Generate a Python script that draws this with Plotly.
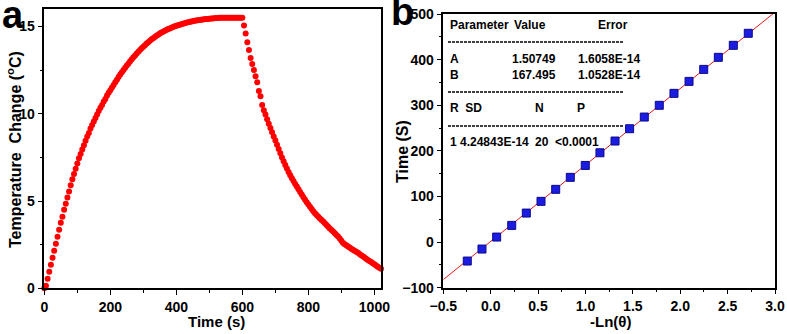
import plotly.graph_objects as go

# ---------------- data ----------------
# panel a: temperature change vs time (heating then natural cooling)
time_a = list(range(0, 1025, 5))
temp_a = [
    0.0, 0.15, 0.55, 0.95, 1.35, 1.75, 2.15, 2.55, 2.95, 3.35,        # 0-45
    3.75, 4.1, 4.5, 4.85, 5.2, 5.55, 5.9, 6.25, 6.55, 6.85,           # 50-95
    7.15, 7.45, 7.7, 7.95, 8.2, 8.45, 8.7, 8.9, 9.15, 9.35,           # 100-145
    9.55, 9.75, 9.95, 10.15, 10.35, 10.5, 10.7, 10.85, 11.05, 11.2,   # 150-195
    11.35, 11.5, 11.65, 11.8, 11.95, 12.1, 12.25, 12.38, 12.5, 12.63, # 200-245
    12.76, 12.88, 13.0, 13.12, 13.23, 13.34, 13.45, 13.55, 13.65, 13.75,  # 250-295
    13.84, 13.93, 14.02, 14.1, 14.18, 14.26, 14.33, 14.4, 14.47, 14.53,   # 300-345
    14.59, 14.65, 14.7, 14.75, 14.8, 14.85, 14.89, 14.93, 14.97, 15.01,   # 350-395
    15.04, 15.07, 15.1, 15.13, 15.16, 15.19, 15.21, 15.24, 15.26, 15.28,  # 400-445
    15.3, 15.32, 15.34, 15.36, 15.37, 15.39, 15.4, 15.41, 15.42, 15.43,   # 450-495
    15.44, 15.45, 15.46, 15.47, 15.48, 15.49, 15.5, 15.5, 15.5, 15.5,     # 500-545
    15.5, 15.5, 15.5, 15.5, 15.5, 15.5, 15.5, 15.5, 15.5, 15.5,           # 550-595
    15.5, 15.05, 14.6, 14.1, 13.65, 13.2, 12.85, 12.5, 12.15, 11.8,       # 600-645
    11.3, 11.0, 10.5, 10.2, 9.95, 9.68, 9.42, 9.18, 8.94, 8.7,            # 650-695
    8.46, 8.22, 7.98, 7.74, 7.5, 7.28, 7.07, 6.86, 6.66, 6.48,            # 700-745
    6.3, 6.14, 5.98, 5.83, 5.67, 5.52, 5.37, 5.22, 5.07, 4.93,            # 750-795
    4.8, 4.67, 4.54, 4.42, 4.3, 4.2, 4.1, 4.0, 3.91, 3.82,                # 800-845
    3.73, 3.63, 3.53, 3.43, 3.34, 3.25, 3.15, 3.06, 2.97, 2.85,           # 850-895
    2.72, 2.6, 2.53, 2.46, 2.4, 2.34, 2.27, 2.21, 2.15, 2.1,              # 900-945
    2.04, 1.97, 1.9, 1.83, 1.76, 1.69, 1.62, 1.56, 1.5, 1.44,             # 950-995
    1.38, 1.31, 1.24, 1.18, 1.12,                                         # 1000-1020
]

# panel b: time vs -Ln(theta) with linear fit
neg_ln_theta = [-0.247, -0.092, 0.063, 0.222, 0.376, 0.531, 0.686, 0.840, 0.998, 1.153,
                1.312, 1.466, 1.621, 1.779, 1.934, 2.093, 2.248, 2.402, 2.560, 2.718]
time_b = [-41.6, -15.3, 11.0, 36.6, 63.6, 89.3, 115.6, 141.9, 168.0, 195.8,
          221.5, 248.5, 274.1, 299.8, 326.0, 352.3, 378.6, 405.0, 431.3, 457.7]
fit_A = 1.50749
fit_B = 167.495
fit_x = [-0.5, 3.0]
fit_y = [fit_A + fit_B * v for v in fit_x]

table_rows = [
    ["Parameter", "Value", "Error"],
    ["A", "1.50749", "1.6058E-14"],
    ["B", "167.495", "1.0528E-14"],
    ["R  SD", "N", "P"],
    ["1 4.24843E-14", "20", "<0.0001"],
]

# ---------------- figure ----------------
W, H = 787, 334
FONT = "Liberation Sans, Arial, sans-serif"

def px(x):
    return x / W

def py(y):
    return 1 - y / H

fig = go.Figure()
fig.add_trace(go.Scatter(
    x=time_a, y=temp_a, mode="markers", xaxis="x", yaxis="y",
    marker=dict(color="#ff0000", size=6, line=dict(width=0)),
    showlegend=False, cliponaxis=False))
fig.add_trace(go.Scatter(
    x=fit_x, y=fit_y, mode="lines", xaxis="x2", yaxis="y2",
    line=dict(color="#e8141a", width=1), showlegend=False))
fig.add_trace(go.Scatter(
    x=neg_ln_theta, y=time_b, mode="markers", xaxis="x2", yaxis="y2",
    marker=dict(symbol="square", color="#1c1ce0", size=8,
                line=dict(color="#0a0a90", width=1)),
    showlegend=False))

axis_common = dict(
    showline=True, linecolor="black", linewidth=1.5, mirror=True,
    ticks="outside", ticklen=5, tickwidth=1.2, tickcolor="black",
    showgrid=False, zeroline=False, automargin=False,
    tickfont=dict(family=FONT, size=14, color="black", weight="bold"),
)

fig.update_layout(
    width=W, height=H,
    margin=dict(l=0, r=0, t=0, b=0),
    paper_bgcolor="white", plot_bgcolor="white",
    xaxis=dict(domain=[px(44.3), px(381)], range=[0, 1020], dtick=200, tick0=0,
               anchor="y",
               minor=dict(ticks="outside", ticklen=3, dtick=100, tickcolor="black"),
               **axis_common),
    yaxis=dict(domain=[py(288.3), py(9)], range=[0, 16], dtick=5, tick0=0,
               anchor="x",
               minor=dict(ticks="outside", ticklen=3, dtick=2.5, tickcolor="black"),
               **axis_common),
    xaxis2=dict(domain=[px(443.3), px(775)], range=[-0.5, 3.0], dtick=0.5, tick0=-0.5,
                anchor="y2", tickformat=".1f",
                minor=dict(ticks="outside", ticklen=3, dtick=0.25, tickcolor="black"),
                **axis_common),
    yaxis2=dict(domain=[py(287.7), py(14)], range=[-100, 500], dtick=100, tick0=-100,
                anchor="x2",
                minor=dict(ticks="outside", ticklen=3, dtick=50, tickcolor="black"),
                **axis_common),
)

def ann(text, x, y, size, xanchor="center", yanchor="middle", angle=0, family=FONT):
    fig.add_annotation(text=text, x=px(x), y=py(y), xref="paper", yref="paper",
                       xanchor=xanchor, yanchor=yanchor, showarrow=False,
                       textangle=angle,
                       font=dict(family=family, size=size, color="black", weight="bold"))

# axis titles
ann("Time (s)", 216, 321, 15)
ann("Temperature  Change (<sup>o</sup>C)", 14, 150, 16, angle=-90)
ann("Time (S)", 402, 152, 16, angle=-90)
ann("-Ln(θ)", 610, 321, 15)

# panel labels
ann("a", 13, 15, 38)
ann("b", 402, 12, 38)

# fit table
col_x = [
    [448, 512, 596],
    [448, 510, 576],
    [448, 510, 576],
    [448, 533, 575],
]
row_y = [25, 59, 75, 108]
for r in range(4):
    for c in range(3):
        ann(table_rows[r][c], col_x[r][c], row_y[r], 12, xanchor="left")
# last row
ann(table_rows[4][0], 448, 142, 12, xanchor="left")
ann(table_rows[4][1], 533, 142, 12, xanchor="left")
ann(table_rows[4][2], 553, 142, 12, xanchor="left")

# dashed separators
for yy in [42, 92, 126]:
    fig.add_shape(type="line", xref="paper", yref="paper",
                  x0=px(448), x1=px(623), y0=py(yy), y1=py(yy),
                  line=dict(color="black", width=1.5, dash="3px,1px"))

fig.write_html("out.html")
